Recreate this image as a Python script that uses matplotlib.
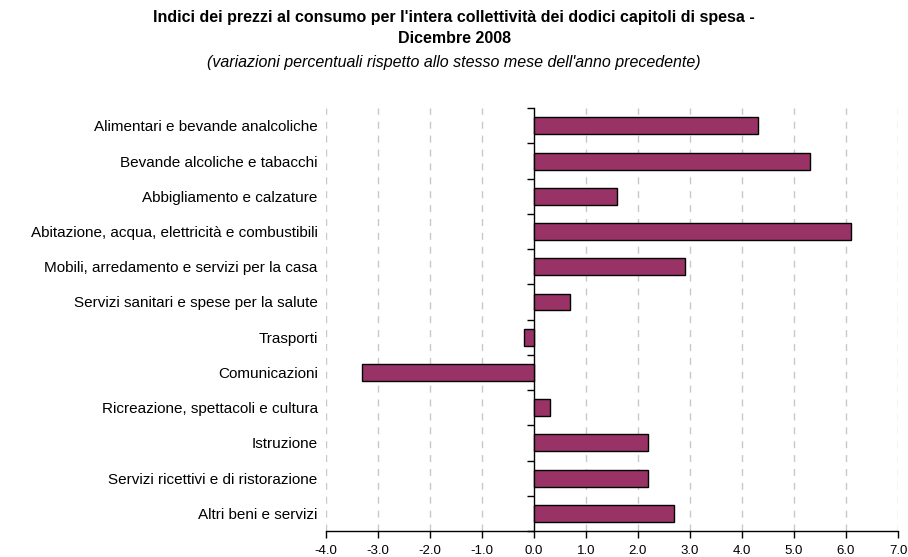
import numpy as np
import matplotlib.pyplot as plt

categories = [
    "Alimentari e bevande analcoliche",
    "Bevande alcoliche e tabacchi",
    "Abbigliamento e calzature",
    "Abitazione, acqua, elettricità e combustibili",
    "Mobili, arredamento e servizi per la casa",
    "Servizi sanitari e spese per la salute",
    "Trasporti",
    "Comunicazioni",
    "Ricreazione, spettacoli e cultura",
    "Istruzione",
    "Servizi ricettivi e di ristorazione",
    "Altri beni e servizi",
]
values = [4.3, 5.3, 1.6, 6.1, 2.9, 0.7, -0.2, -3.3, 0.3, 2.2, 2.2, 2.7]
xticks = [-4.0, -3.0, -2.0, -1.0, 0.0, 1.0, 2.0, 3.0, 4.0, 5.0, 6.0, 7.0]

plt.rcParams['font.family'] = ['Liberation Sans', 'DejaVu Sans']

fig = plt.figure(figsize=(9.08, 5.57), dpi=100)
ax = fig.add_axes([0.359, 0.0467, 0.630, 0.759])

y = np.arange(len(categories))
ax.barh(y, values, height=0.48, color='#993366', edgecolor='black', linewidth=1, zorder=3)

xmin, xmax = -4.0, 7.0
ax.set_xlim(xmin, xmax)
ax.set_ylim(len(categories) - 0.5, -0.5)

# dashed grid
for v in xticks:
    if v != 0:
        ax.axvline(v, color='#c8c8c8', linestyle=(0, (5, 5)), linewidth=1, zorder=1)

ax.set_xticks(xticks)
ax.set_xticklabels([f"{v:.1f}" for v in xticks], fontsize=9.5)
ax.tick_params(axis='x', direction='out', length=5, width=1, pad=5)

ax.set_yticks(y)
ax.set_yticklabels(categories, fontsize=11)
ax.tick_params(axis='y', length=0, pad=6)

for s in ['top', 'right', 'left']:
    ax.spines[s].set_visible(False)
ax.spines['bottom'].set_linewidth(1)

# vertical axis at zero with ticks between categories
zero_pos = (0 - xmin) / (xmax - xmin)
sec = ax.secondary_yaxis(zero_pos)
sec.set_yticks(np.arange(-0.5, len(categories), 1.0))
sec.set_yticklabels([])
sec.tick_params(direction='out', length=5, width=1)
sec.spines['left'].set_linewidth(1)

fig.text(0.5, 0.968, "Indici dei prezzi al consumo per l'intera collettività dei dodici capitoli di spesa -",
         ha='center', va='center', fontsize=11.5, fontweight='bold')
fig.text(0.5, 0.930, "Dicembre 2008", ha='center', va='center', fontsize=11.5, fontweight='bold')
fig.text(0.5, 0.888, "(variazioni percentuali rispetto allo stesso mese dell'anno precedente)",
         ha='center', va='center', fontsize=11.5, style='italic')

fig.savefig("out.png", dpi=100)
